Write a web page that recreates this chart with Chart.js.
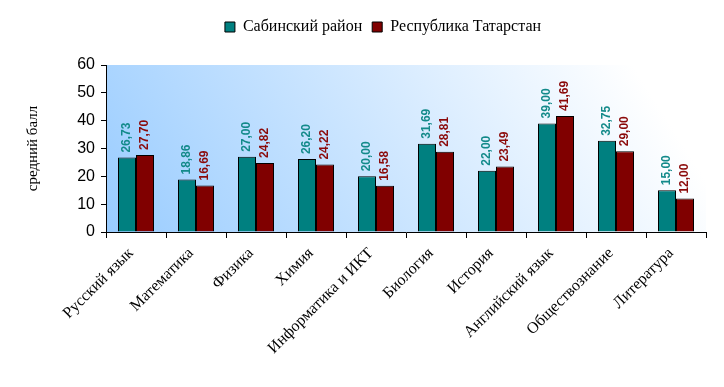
<!DOCTYPE html>
<html>
<head>
<meta charset="utf-8">
<script src="https://cdn.jsdelivr.net/npm/chart.js@4/dist/chart.umd.min.js"></script>
<style>
  html, body { margin: 0; padding: 0; background: #fff; }
  #wrap { width: 724px; height: 387px; }
</style>
</head>
<body>
<div id="wrap"><canvas id="chart"></canvas></div>
<script>
// subjects and average scores
const subjects = ['Русский язык', 'Математика', 'Физика', 'Химия', 'Информатика и ИКТ',
  'Биология', 'История', 'Английский язык', 'Обществознание', 'Литература'];
const sabinsky = [26.73, 18.86, 27.00, 26.20, 20.00, 31.69, 22.00, 39.00, 32.75, 15.00];
const tatarstan = [27.70, 16.69, 24.82, 24.22, 16.58, 28.81, 23.49, 41.69, 29.00, 12.00];
const yTicks = [0, 10, 20, 30, 40, 50, 60];

// plot background: blue fading to white
const bgPlugin = {
  id: 'bg',
  beforeDraw(chart) {
    const { ctx, chartArea: a } = chart;
    const g = ctx.createLinearGradient(a.left, a.bottom, a.left + 450, a.top - 120);
    g.addColorStop(0, '#99ccff');
    g.addColorStop(1, '#ffffff');
    ctx.save();
    ctx.fillStyle = g;
    ctx.fillRect(a.left, a.top, a.right - a.left, a.bottom - a.top);
    ctx.restore();
  }
};

// extra room under the legend, and nudge it right a bit
const legendFix = {
  id: 'legendFix',
  beforeInit(chart) {
    const fit = chart.legend.fit;
    chart.legend.fit = function () {
      fit.call(this);
      this.height += 20;
    };
  },
  afterLayout(chart) {
    chart.legend.left += 30;
    chart.legend.right += 30;
  }
};

// vertical value labels above bars
const labelPlugin = {
  id: 'vals',
  afterDatasetsDraw(chart) {
    const ctx = chart.ctx;
    ctx.save();
    ctx.font = 'bold 12px "Liberation Sans", Arial, sans-serif';
    ctx.textAlign = 'left';
    ctx.textBaseline = 'middle';
    chart.data.datasets.forEach((ds, i) => {
      chart.getDatasetMeta(i).data.forEach((bar, j) => {
        const txt = ds.data[j].toFixed(2).replace('.', ',');
        ctx.save();
        ctx.translate(bar.x, bar.y - 5);
        ctx.rotate(-Math.PI / 2);
        ctx.fillStyle = ds.labelColor;
        ctx.fillText(txt, 0, 0);
        ctx.restore();
      });
    });
    ctx.restore();
  }
};

new Chart(document.getElementById('chart'), {
  type: 'bar',
  data: {
    labels: subjects,
    datasets: [
      {
        label: 'Сабинский район',
        data: sabinsky,
        backgroundColor: '#008080',
        borderColor: '#000',
        borderWidth: 1,
        labelColor: '#138a8a'
      },
      {
        label: 'Республика Татарстан',
        data: tatarstan,
        backgroundColor: '#800000',
        borderColor: '#000',
        borderWidth: 1,
        labelColor: '#8b0a0a'
      }
    ]
  },
  options: {
    responsive: true,
    maintainAspectRatio: false,
    animation: false,
    layout: { padding: { top: 9, right: 18, left: 0, bottom: 0 } },
    datasets: { bar: { categoryPercentage: 0.6, barPercentage: 1 } },
    plugins: {
      legend: {
        position: 'top',
        labels: {
          boxWidth: 10,
          boxHeight: 10,
          padding: 10,
          color: '#000',
          font: { family: '"Liberation Serif", "Times New Roman", serif', size: 16 }
        }
      },
      tooltip: { enabled: false }
    },
    scales: {
      x: {
        grid: { display: true, drawOnChartArea: false, color: '#000', tickLength: 6, offset: true },
        border: { color: '#000', width: 1 },
        ticks: {
          color: '#000',
          maxRotation: 45,
          minRotation: 45,
          autoSkip: false,
          padding: 6,
          labelOffset: -5,
          font: { family: '"Liberation Serif", "Times New Roman", serif', size: 16 }
        },
        afterFit(scale) { scale.height = 155; }
      },
      y: {
        min: 0,
        max: 60,
        afterBuildTicks(scale) { scale.ticks = yTicks.map(v => ({ value: v })); },
        grid: { display: true, drawOnChartArea: false, color: '#000', tickLength: 5 },
        border: { color: '#000', width: 1 },
        ticks: {
          color: '#000',
          padding: 6,
          font: { family: '"Liberation Sans", Arial, sans-serif', size: 16 }
        },
        title: {
          display: true,
          text: 'средний балл',
          color: '#000',
          padding: { top: 24, bottom: 0 },
          font: { family: '"Liberation Serif", "Times New Roman", serif', size: 15 }
        },
        afterFit(scale) { scale.width = 106; }
      }
    }
  },
  plugins: [bgPlugin, legendFix, labelPlugin]
});
</script>
</body>
</html>
